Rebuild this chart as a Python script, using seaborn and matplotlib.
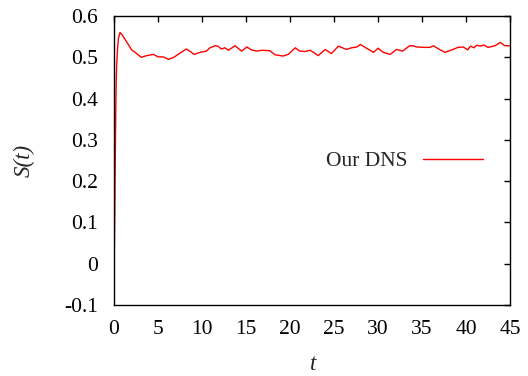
import matplotlib
matplotlib.use("Agg")
import matplotlib.pyplot as plt
import seaborn as sns
import pandas as pd

# Time series of S(t) from the DNS run
t = [0.0, 0.05, 0.1, 0.15, 0.2, 0.25, 0.3, 0.4, 0.5, 0.68, 0.9, 1.2, 1.6, 2.0, 2.4,
     3.1, 3.7, 4.5, 5.0, 5.6, 6.2, 6.8, 7.5, 8.2, 8.6, 9.1, 9.8, 10.5, 10.9,
     11.5, 11.8, 12.2, 12.6, 13.0, 13.75, 14.5, 15.1, 15.6, 16.2, 16.8, 17.7,
     18.3, 18.9, 19.2, 19.8, 20.6, 21.1, 21.7, 22.3, 23.2, 24.0, 24.7, 25.5,
     26.4, 27.0, 27.6, 28.0, 28.7, 29.5, 30.0, 30.6, 31.4, 32.1, 32.8, 33.6,
     34.0, 34.4, 35.3, 35.9, 36.3, 36.9, 37.6, 38.4, 39.1, 39.7, 40.2, 40.5,
     40.9, 41.2, 41.7, 42.0, 42.5, 43.3, 43.9, 44.4, 45.0]
S = [0.0, 0.05, 0.15, 0.27, 0.37, 0.44, 0.48, 0.52, 0.545, 0.560, 0.555, 0.545, 0.532, 0.518, 0.512,
     0.500, 0.504, 0.507, 0.501, 0.501, 0.495, 0.500, 0.510, 0.520, 0.515, 0.507, 0.512, 0.515, 0.523,
     0.528, 0.527, 0.520, 0.523, 0.517, 0.528, 0.515, 0.525, 0.518, 0.515, 0.517, 0.516,
     0.506, 0.504, 0.503, 0.507, 0.523, 0.515, 0.514, 0.517, 0.504, 0.519, 0.509, 0.527,
     0.519, 0.523, 0.525, 0.531, 0.522, 0.512, 0.522, 0.512, 0.507, 0.519, 0.515, 0.528,
     0.528, 0.525, 0.524, 0.524, 0.528, 0.520, 0.512, 0.518, 0.524, 0.525, 0.518, 0.527,
     0.523, 0.529, 0.527, 0.530, 0.524, 0.528, 0.536, 0.528, 0.528]

x_ticks = [0, 5, 10, 15, 20, 25, 30, 35, 40, 45]
y_ticks = [-0.1, 0, 0.1, 0.2, 0.3, 0.4, 0.5, 0.6]
y_tick_labels = ["-0.1", "0", "0.1", "0.2", "0.3", "0.4", "0.5", "0.6"]

sns.set_theme(style="white")
plt.rcParams["font.family"] = ["Liberation Serif", "DejaVu Serif"]

df = pd.DataFrame({"t": t, "S": S, "run": "Our DNS"})

fig = plt.figure(figsize=(5.28, 3.76), dpi=100)
ax = fig.add_axes([114 / 528, 1 - 305 / 376, 396 / 528, 289 / 376])

sns.lineplot(data=df, x="t", y="S", hue="run", palette=["#ff0000"],
             linewidth=1.0, ax=ax, legend=True)

ax.set_xlim(0, 45)
ax.set_ylim(-0.1, 0.6)
ax.set_xticks(x_ticks)
ax.set_xticklabels([str(v) for v in x_ticks])
ax.set_yticks(y_ticks)
ax.set_yticklabels(y_tick_labels)
ax.tick_params(direction="in", length=4.5, width=1.0, top=True, right=True,
               labelsize=15.5, colors="black")
ax.tick_params(axis="x", pad=11)
ax.tick_params(axis="y", pad=11.5)
for sp in ax.spines.values():
    sp.set_color("black")
    sp.set_linewidth(1.0)

ax.set_xlabel("t", fontsize=16.5, style="italic")
ax.set_ylabel("S(t)", fontsize=16.5, style="italic")
ax.xaxis.set_label_coords(0.503, -0.17)
ax.yaxis.set_label_coords(-0.200, 0.5)

leg = ax.legend(loc="center right", bbox_to_anchor=(0.932, 0.498), frameon=False,
                markerfirst=False, fontsize=15.5, handlelength=2.8,
                handletextpad=0.7, borderpad=0, borderaxespad=0)

fig.savefig("out.png", dpi=100)
